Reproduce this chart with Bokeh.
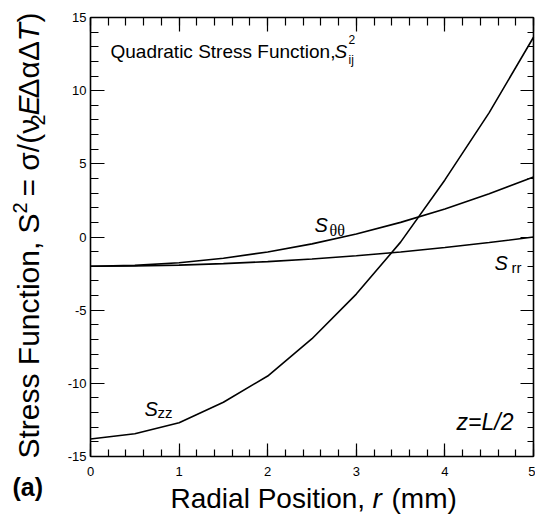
import math
from bokeh.plotting import figure
from bokeh.models import (Label, LinearAxis, SingleIntervalTicker, Range1d,
                          CustomJSTickFormatter)
from bokeh.embed import file_html
from bokeh.resources import INLINE

# ---- data ----
r = [0, 0.5, 1, 1.5, 2, 2.5, 3, 3.5, 4, 4.5, 5]
s_theta = [-2.0, -1.94, -1.76, -1.45, -1.02, -0.47, 0.2, 1.0, 1.92, 2.96, 4.1]
s_rr = [-2.0, -1.98, -1.92, -1.82, -1.68, -1.5, -1.28, -1.02, -0.72, -0.38, 0.0]
s_zz = [-13.8, -13.45, -12.7, -11.29, -9.5, -6.95, -3.9, -0.35, 3.9, 8.5, 13.65]

x_ticks_major = 1
y_ticks_major = 5

FONT = "Liberation Sans"
SERIF = "Liberation Serif"

W, H = 535, 518
# data rectangle geometry (pixels)
FL, FR, FT, FB = 90, 533, 17, 456
XMIN, XMAX, YMIN, YMAX = 0, 5, -15, 15


def dx(px):
    return XMIN + (px - FL) * (XMAX - XMIN) / (FR - FL)


def dy(py):
    return YMAX - (py - FT) * (YMAX - YMIN) / (FB - FT)


# the frame fills the whole canvas; the axes sit at fixed data locations
p = figure(width=W, height=H, output_backend="svg", toolbar_location=None,
           x_range=Range1d(dx(0), dx(W)), y_range=Range1d(dy(H), dy(0)),
           min_border=0, x_axis_location=None, y_axis_location=None)
p.xgrid.visible = False
p.ygrid.visible = False
p.outline_line_color = None
p.background_fill_color = "white"
p.border_fill_color = "white"

fmt = CustomJSTickFormatter(code="return String(tick);")


def style_axis(ax, labels=True, major_in=13, minor_in=7):
    ax.axis_line_color = "black"
    ax.axis_line_width = 1.6
    ax.major_tick_in = major_in
    ax.major_tick_out = 0
    ax.minor_tick_in = minor_in
    ax.minor_tick_out = 0
    ax.major_tick_line_color = "black"
    ax.minor_tick_line_color = "black"
    ax.major_tick_line_width = 1.2
    ax.minor_tick_line_width = 1.2
    if labels:
        ax.formatter = fmt
        ax.major_label_text_font = FONT
        ax.major_label_text_font_size = "13px"
        ax.major_label_text_color = "black"
    else:
        ax.major_label_text_font_size = "0px"
        ax.major_label_standoff = 0
        ax.major_label_text_color = None


xb = LinearAxis(ticker=SingleIntervalTicker(interval=x_ticks_major, num_minor_ticks=5),
                fixed_location=YMIN, bounds=(XMIN, XMAX))
style_axis(xb)
xb.major_label_standoff = 10
p.add_layout(xb, "below")

xt = LinearAxis(ticker=SingleIntervalTicker(interval=x_ticks_major, num_minor_ticks=5),
                fixed_location=YMAX, bounds=(XMIN, XMAX))
style_axis(xt, labels=False, major_in=14, minor_in=8)
p.add_layout(xt, "above")

yl = LinearAxis(ticker=SingleIntervalTicker(interval=y_ticks_major, num_minor_ticks=5),
                fixed_location=XMIN, bounds=(YMIN, YMAX))
style_axis(yl, major_in=14, minor_in=8)
yl.major_label_standoff = 4
p.add_layout(yl, "left")

yr = LinearAxis(ticker=SingleIntervalTicker(interval=y_ticks_major, num_minor_ticks=5),
                fixed_location=XMAX, bounds=(YMIN, YMAX))
style_axis(yr, labels=False, major_in=13, minor_in=6)
p.add_layout(yr, "right")

# curves
for ys in (s_theta, s_rr, s_zz):
    p.line(r, ys, line_color="black", line_width=1.6)

BASE_FIX = 0.3  # Bokeh's alphabetic baseline sits ~0.3em below the anchor


def lab(px, py, text, size, style="normal", font=FONT, align="left", angle=0.0):
    if angle == 0.0:
        py = py - BASE_FIX * size
    else:
        px = px - BASE_FIX * size
    p.add_layout(Label(x=dx(px), y=dy(py), text=text, text_font=font,
                       text_font_size=f"{size}px", text_font_style=style,
                       text_align=align, text_baseline="alphabetic",
                       text_color="black", angle=angle))


# in-plot annotation: Quadratic Stress Function, S_ij^2
lab(110, 57, "Quadratic  Stress Function,", 19)
lab(334, 57, "S", 19, "italic")
lab(348, 43, "2", 12)
lab(348, 63, "ij", 12)

# curve labels
lab(314, 230, "S", 20, "italic")
lab(329, 235, "θθ", 16, font=SERIF)
lab(494, 268, "S", 20, "italic")
lab(511, 271, "rr", 15)
lab(144, 414, "S", 20, "italic")
lab(157, 416, "zz", 15)

lab(513, 428, "z=L/2", 23, "italic", align="right")

# panel tag
lab(12, 494, "(a)", 25, "bold")

# x-axis title
lab(170, 506, "Radial Position,", 28)
lab(372, 506, "r", 28, "italic")
lab(391, 506, "(mm)", 28)

# y-axis title, rotated, built from pieces (text reads bottom to top)
A = math.pi / 2
BX = 37
lab(BX, 458, "Stress Function, S", 30, angle=A)
lab(BX - 12, 213, "2", 20, angle=A)
lab(BX, 196, "= σ/(ν", 30, angle=A)
lab(BX + 6, 125, "2", 20, angle=A)
lab(BX, 115, "E", 30, "italic", angle=A)
lab(BX, 98, "ΔαΔ", 30, angle=A)
lab(BX, 41, "T", 30, "italic", angle=A)
lab(BX, 22, ")", 30, angle=A)

open("out.html", "w").write(file_html(p, INLINE))
